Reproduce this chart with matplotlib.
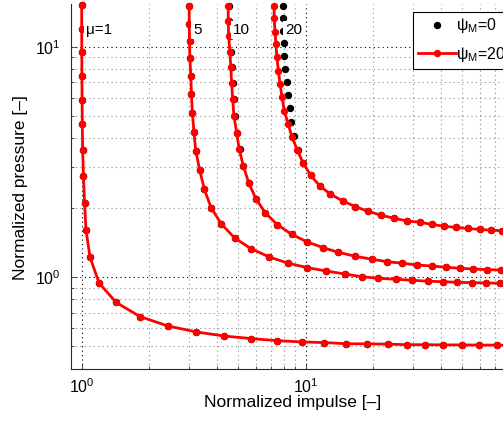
import matplotlib
matplotlib.use('Agg')
import matplotlib.pyplot as plt
from matplotlib.ticker import LogLocator, NullFormatter
from matplotlib.lines import Line2D

plt.rcParams['font.family'] = ['Liberation Sans', 'DejaVu Sans']
plt.rcParams['mathtext.fontset'] = 'custom'
plt.rcParams['mathtext.rm'] = 'Liberation Sans'
plt.rcParams['mathtext.it'] = 'Liberation Sans:italic'
plt.rcParams['mathtext.bf'] = 'Liberation Sans:bold'

# ---------------- data ----------------
mu1_x = [1.000, 1.000, 1.001, 1.002, 1.004, 1.006, 1.010, 1.018, 1.030, 1.045, 1.089, 1.195,
         1.423, 1.82, 2.42, 3.25, 4.33, 5.72, 7.47, 9.60, 12.1, 15.2, 18.8, 23.2, 28.2, 34.1,
         41.1, 49.7, 59.6, 71.2, 85.0]
mu1_y = [15.2, 11.9, 9.46, 7.46, 5.89, 4.60, 3.57, 2.75, 2.10, 1.60, 1.22, 0.942,
         0.776, 0.673, 0.613, 0.577, 0.554, 0.540, 0.529, 0.522, 0.519, 0.513, 0.512, 0.511,
         0.508, 0.508, 0.507, 0.507, 0.506, 0.506, 0.505]

mu5_x = [3.02, 3.02, 3.03, 3.04, 3.07, 3.09, 3.12, 3.17, 3.23, 3.36, 3.53, 3.78, 4.20, 4.82,
         5.70, 6.88, 8.36, 10.17, 12.32, 14.93, 17.78, 21.1, 25.2, 29.9, 35.3, 40.9, 47.5,
         55.1, 63.8, 73.7, 85.0]
mu5_y = [15.07, 12.6, 10.6, 8.91, 7.44, 6.21, 5.15, 4.26, 3.53, 2.92, 2.40, 2.00, 1.70, 1.476,
         1.327, 1.221, 1.147, 1.098, 1.062, 1.030, 1.003, 0.987, 0.977, 0.968, 0.958, 0.954,
         0.948, 0.945, 0.942, 0.939, 0.936]

mu10_x = [4.51, 4.51, 4.53, 4.59, 4.63, 4.67, 4.72, 4.78, 4.92, 5.05, 5.27, 5.57, 6.00, 6.60,
          7.47, 8.66, 10.1, 11.98, 13.98, 16.65, 19.71, 23.1, 27.0, 31.5, 36.5, 42.2, 48.9,
          56.0, 64.7, 74.2, 85.0]
mu10_y = [15.07, 12.93, 11.09, 9.51, 8.14, 6.98, 5.93, 5.02, 4.23, 3.58, 3.03, 2.56, 2.18, 1.90,
          1.687, 1.532, 1.423, 1.34, 1.28, 1.23, 1.194, 1.165, 1.147, 1.127, 1.116, 1.102,
          1.091, 1.083, 1.076, 1.072, 1.068]

mu20_x = [7.22, 7.24, 7.29, 7.37, 7.44, 7.55, 7.68, 7.84, 8.03, 8.34, 8.69, 9.17, 9.73, 10.53,
          11.55, 12.88, 14.63, 16.65, 18.97, 21.76, 24.86, 28.42, 32.4, 36.7, 41.6, 47.1,
          53.2, 60.0, 67.2, 75.2, 85.0]
mu20_y = [15.07, 13.28, 11.62, 10.24, 8.99, 7.87, 6.91, 6.04, 5.27, 4.63, 4.05, 3.56, 3.13, 2.76,
          2.49, 2.29, 2.14, 2.02, 1.93, 1.853, 1.798, 1.75, 1.728, 1.690, 1.660, 1.640,
          1.624, 1.608, 1.597, 1.587, 1.578]

# psi_M = 0 (black dots); for mu = 1 and 5 they coincide with psi_M = 20
b_mu10_x = [4.55, 4.56, 4.58, 4.64, 4.68, 4.72, 4.77, 4.83, 4.96, 5.08, 5.27, 5.57, 6.00, 6.60,
            7.47, 8.66, 10.1, 11.98, 13.98, 16.65, 19.71, 23.1, 27.0, 31.5, 36.5, 42.2, 48.9,
            56.0, 64.7, 74.2, 85.0]
b_mu20_x = [7.89, 7.88, 7.89, 7.99, 8.04, 8.11, 8.23, 8.32, 8.47, 8.64, 8.89, 9.21, 9.73, 10.53,
            11.55, 12.88, 14.63, 16.65, 18.97, 21.76, 24.86, 28.42, 32.4, 36.7, 41.6, 47.1,
            53.2, 60.0, 67.2, 75.2, 85.0]
b_mu20_y = [15.07, 13.39, 11.70, 10.35, 9.11, 8.03, 7.05, 6.17, 5.40, 4.70, 4.09, 3.56, 3.13, 2.76,
            2.49, 2.29, 2.14, 2.02, 1.93, 1.853, 1.798, 1.75, 1.728, 1.690, 1.660, 1.640,
            1.624, 1.608, 1.597, 1.587, 1.578]

red_series = [(mu1_x, mu1_y), (mu5_x, mu5_y), (mu10_x, mu10_y), (mu20_x, mu20_y)]
black_series = [(mu1_x, mu1_y), (mu5_x, mu5_y), (b_mu10_x, mu10_y), (b_mu20_x, b_mu20_y)]

curve_labels = ['μ=1', '5', '10', '20']
label_x = [1.045, 3.15, 4.75, 8.13]
label_y = [11.8, 11.8, 11.8, 11.8]
legend_labels = ['ψ$_\\mathregular{M}$=0', 'ψ$_\\mathregular{M}$=20']

x_ticks = [1, 10, 100]
x_ticklabels = ['$10^{0}$', '$10^{1}$', '']
y_ticks = [1, 10]
y_ticklabels = ['$10^{0}$', '$10^{1}$']

# ---------------- figure ----------------
fig = plt.figure(figsize=(5.03, 4.21), dpi=100)
ax = fig.add_axes([0.14205, 0.12447, 0.9110, 0.8656])
ax.set_xscale('log')
ax.set_yscale('log')

for bx, by in black_series:
    ax.plot(bx, by, ls='none', marker='o', ms=4.3, color='k', clip_on=False, zorder=3)
for rx, ry in red_series:
    ax.plot(rx, ry, '-', marker='o', ms=4.3, color='#ff0000', lw=2.0, clip_on=False, zorder=4)

for t, x, y in zip(curve_labels, label_x, label_y):
    ax.text(x, y, t, fontsize=11, ha='left', va='center', zorder=5,
            bbox=dict(facecolor='white', edgecolor='none', pad=1.5))

ax.set_xticks(x_ticks)
ax.set_xticklabels(x_ticklabels)
ax.set_yticks(y_ticks)
ax.set_yticklabels(y_ticklabels)
ax.xaxis.set_minor_locator(LogLocator(base=10, subs=range(2, 10), numticks=20))
ax.yaxis.set_minor_locator(LogLocator(base=10, subs=range(2, 10), numticks=20))
ax.xaxis.set_minor_formatter(NullFormatter())
ax.yaxis.set_minor_formatter(NullFormatter())
ax.set_xlim(0.9, 100)
ax.set_ylim(0.4, 15.3)

ax.set_axisbelow(True)
ax.grid(True, which='major', ls=(0, (1, 3)), color='k', lw=0.8)
ax.grid(True, which='minor', ls=(0, (1, 3)), color='0.55', lw=0.8)

ax.tick_params(which='both', direction='in', top=False, right=False, width=0.6, color='0.2')
ax.tick_params(which='major', length=4)
ax.tick_params(which='minor', length=2)
ax.tick_params(axis='x', which='major', labelsize=11.5, pad=6)
ax.tick_params(axis='y', which='major', labelsize=11.5, pad=8)

for s in ['top', 'right']:
    ax.spines[s].set_visible(False)
for s in ['left', 'bottom']:
    ax.spines[s].set_linewidth(0.8)
    ax.spines[s].set_color('0.15')

ax.set_xlabel('Normalized impulse [–]', fontsize=12.5)
ax.set_ylabel('Normalized pressure [–]', fontsize=12.5)
ax.xaxis.set_label_coords(0.4824, -0.073)
ax.yaxis.set_label_coords(-0.095, 0.4956)

h0 = Line2D([], [], ls='none', marker='o', color='k', ms=4.3)
h1 = Line2D([], [], ls='-', marker='o', color='#ff0000', lw=2.0, ms=4.3)
leg = ax.legend([h0, h1], legend_labels, loc='upper left',
                bbox_to_anchor=(413.3 / 503, 1 - 11.7 / 421), bbox_transform=fig.transFigure,
                frameon=True, fancybox=False, edgecolor='k', framealpha=1,
                borderaxespad=0, handlelength=2.35, handletextpad=0.0,
                labelspacing=0.6, borderpad=0.3, fontsize=11.5)
leg.get_frame().set_linewidth(0.8)
leg.set_zorder(10)

fig.savefig('out.png', dpi=100)
